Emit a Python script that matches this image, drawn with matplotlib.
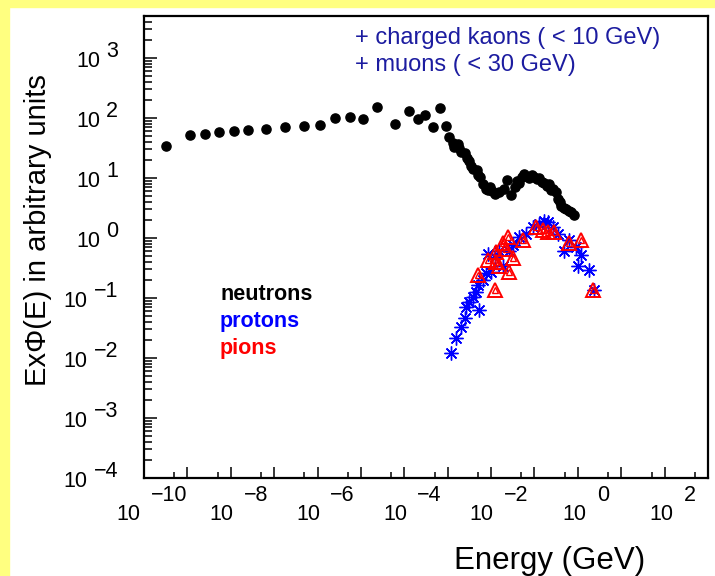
import matplotlib
matplotlib.use("Agg")
import numpy as np
import matplotlib.pyplot as plt
from matplotlib.ticker import LogLocator, NullFormatter
from matplotlib.transforms import blended_transform_factory, ScaledTranslation
from matplotlib.patches import Rectangle

plt.rcParams['font.family'] = ['Liberation Sans', 'DejaVu Sans']

# ---------------- data (log10 values) ----------------
neutron_logE = [-9.49, -8.94, -8.60, -8.27, -7.93, -7.61, -7.19, -6.74, -6.32, -5.94,
                -5.59, -5.26, -4.95, -4.62, -4.22, -3.89, -3.69, -3.52, -3.34, -3.17,
                -3.03, -2.96, -2.88, -2.77, -2.69, -2.61, -2.51, -2.42, -2.33, -2.25,
                -2.19, -2.11, -2.02, -1.92, -1.81, -1.64, -1.54, -1.46, -1.35, -1.23,
                -1.12, -1.00, -0.89, -0.77, -0.66, -0.58, -0.50, -0.46, -0.39, -0.27,
                -0.16, -0.08, -2.85, -2.73, -2.56, -2.46, -2.29, -2.06, -1.97, -1.70,
                -1.40, -1.28, -1.05, -0.94, -0.82, -0.71, -0.62, -0.42, -0.33, -0.21]
neutron_logF = [1.54, 1.72, 1.73, 1.76, 1.79, 1.80, 1.81, 1.85, 1.86, 1.88,
                2.00, 2.01, 1.98, 2.18, 1.90, 2.12, 1.98, 2.05, 1.85, 2.16,
                1.87, 1.68, 1.58, 1.57, 1.44, 1.41, 1.28, 1.15, 1.13, 1.02,
                0.90, 0.82, 0.85, 0.74, 0.76, 0.96, 0.71, 0.85, 0.91, 1.06,
                1.00, 1.02, 1.00, 0.91, 0.90, 0.82, 0.76, 0.65, 0.54, 0.49,
                0.43, 0.38, 1.52, 1.50, 1.33, 1.20, 1.05, 0.80, 0.78, 0.82,
                0.95, 1.02, 1.05, 0.98, 0.94, 0.86, 0.80, 0.60, 0.50, 0.45]

proton_logE = [-2.92, -2.80, -2.69, -2.61, -2.57, -2.50, -2.42, -2.34, -2.27, -2.31,
               -2.19, -2.11, -2.00, -2.08, -1.92, -1.81, -1.73, -1.58, -1.50, -1.35,
               -1.19, -1.04, -0.89, -0.77, -0.69, -0.58, -0.46, -0.31, -0.20, -0.04,
               0.07, 0.00, 0.26, 0.38]
proton_logF = [-1.92, -1.67, -1.48, -1.34, -1.15, -1.06, -0.98, -0.90, -1.20, -0.79,
               -0.70, -0.59, -0.57, -0.26, -0.32, -0.21, -0.46, -0.21, -0.12, 0.01,
               0.07, 0.18, 0.24, 0.29, 0.26, 0.18, 0.07, -0.21, -0.04, -0.15,
               -0.29, -0.46, -0.54, -0.87]

pion_logE = [-1.62, -1.73, -1.88, -2.08, -2.31, -1.92, -1.58, -1.50, -1.81, -1.27,
             -0.96, -0.81, -0.69, -0.54, -0.20, 0.07, 0.34, -1.66, -1.88]
pion_logF = [0.01, -0.09, -0.23, -0.37, -0.62, -0.87, -0.57, -0.34, -0.46, -0.04,
             0.18, 0.13, 0.10, 0.10, -0.09, -0.04, -0.87, -0.18, -0.40]

x_label_exponents = [-10, -8, -6, -4, -2, 0, 2]
y_label_exponents = [-4, -3, -2, -1, 0, 1, 2, 3]
legend_labels = ['neutrons', 'protons', 'pions']
legend_colors = ['black', '#0000ff', '#ff0000']
note_lines = ['+ charged kaons ( < 10 GeV)', '+ muons ( < 30 GeV)']
x_title = 'Energy (GeV)'
y_title = 'ExΦ(E) in arbitrary units'

# ---------------- figure ----------------
W, H, DPI = 715, 576, 100
fig = plt.figure(figsize=(W / DPI, H / DPI), dpi=DPI, facecolor='white')
yellow = '#ffff80'
fig.patches.append(Rectangle((0, 0), 9 / W, 1, transform=fig.transFigure,
                             color=yellow, zorder=-10))
fig.patches.append(Rectangle((0, 1 - 7 / H), 1, 7 / H, transform=fig.transFigure,
                             color=yellow, zorder=-10))

L, R, T, B = 144, 708, 16, 478
ax = fig.add_axes([L / W, 1 - B / H, (R - L) / W, (B - T) / H])
ax.set_xscale('log')
ax.set_yscale('log')
ax.set_xlim(1e-10, 1e3)
ax.set_ylim(1e-4, 5e3)

for s in ax.spines.values():
    s.set_linewidth(1.6)

ax.xaxis.set_major_locator(LogLocator(base=10, numticks=40))
ax.xaxis.set_minor_locator(LogLocator(base=10, subs=[5.0], numticks=40))
ax.yaxis.set_major_locator(LogLocator(base=10, numticks=40))
ax.yaxis.set_minor_locator(LogLocator(base=10, subs=np.arange(2, 10), numticks=40))
ax.xaxis.set_minor_formatter(NullFormatter())
ax.yaxis.set_minor_formatter(NullFormatter())
ax.tick_params(which='both', direction='in', top=False, right=False,
               labelbottom=False, labelleft=False, width=1.1, color='black')
ax.tick_params(axis='x', which='major', length=8)
ax.tick_params(axis='x', which='minor', length=4)
ax.tick_params(axis='y', which='major', length=9.5)
ax.tick_params(axis='y', which='minor', length=5.5)

# ---------------- data marks ----------------
def p(v):
    return np.power(10.0, np.asarray(v, dtype=float))

ax.plot(p(proton_logE), p(proton_logF), linestyle='none', marker=(8, 2, 0),
        markersize=10, markeredgewidth=1.0, color=legend_colors[1], zorder=3)
ax.plot(p(pion_logE), p(pion_logF), linestyle='none', marker='^', markersize=10,
        markerfacecolor='none', markeredgewidth=1.4, markeredgecolor=legend_colors[2], zorder=4)
ax.plot(p(pion_logE), p(pion_logF), linestyle='none', marker='^', markersize=5,
        markerfacecolor='none', markeredgewidth=1.0, markeredgecolor=legend_colors[2], zorder=4)
ax.plot(p(neutron_logE), p(neutron_logF), linestyle='none', marker='o', markersize=6.6,
        color=legend_colors[0], zorder=5)

# ---------------- tick labels (ROOT style "10" + raised exponent) ----------------
px = 1.0 / DPI
tick_fs = 15.5

def fmt_exp(e):
    return str(e).replace('-', '\u2212')

bx = blended_transform_factory(ax.transData, ax.transAxes)
renderer = fig.canvas.get_renderer()
gap_x = 10
for e in x_label_exponents:
    t10 = ax.text(10.0 ** e, 0, '10', fontsize=tick_fs, ha='left', va='baseline',
                  transform=bx)
    te = ax.text(10.0 ** e, 0, fmt_exp(e), fontsize=tick_fs, ha='left', va='baseline',
                 transform=bx)
    w10 = t10.get_window_extent(renderer).width
    we = te.get_window_extent(renderer).width
    total = w10 + gap_x + we
    left = 8 - total / 2.0
    t10.set_transform(bx + ScaledTranslation(left * px, -42 * px, fig.dpi_scale_trans))
    te.set_transform(bx + ScaledTranslation((left + w10 + gap_x) * px, -23 * px,
                                            fig.dpi_scale_trans))

by = blended_transform_factory(ax.transAxes, ax.transData)
gap_y = 6
for e in y_label_exponents:
    te = ax.text(0, 10.0 ** e, fmt_exp(e), fontsize=tick_fs, ha='right', va='baseline',
                 transform=by + ScaledTranslation(-26 * px, 1 * px, fig.dpi_scale_trans))
    we = te.get_window_extent(renderer).width
    ax.text(0, 10.0 ** e, '10', fontsize=tick_fs, ha='right', va='baseline',
            transform=by + ScaledTranslation((-26 - we - gap_y) * px, -9 * px,
                                             fig.dpi_scale_trans))

# ---------------- titles and annotations ----------------
fig.text(645 / W, 1 - 569 / H, x_title, fontsize=22.5, ha='right', va='baseline')
fig.text(38 / W, 1 - 230 / H, y_title, fontsize=21, rotation=90, ha='center', va='center')

note_color = '#1c1ca0'
fig.text(355 / W, 1 - 44 / H, note_lines[0], fontsize=17, color=note_color,
         ha='left', va='baseline')
fig.text(355 / W, 1 - 71 / H, note_lines[1], fontsize=17, color=note_color,
         ha='left', va='baseline')

legend_baselines = [300, 327, 354]
for lab, col, yb in zip(legend_labels, legend_colors, legend_baselines):
    fig.text(220 / W, 1 - yb / H, lab, fontsize=15.5, fontweight='bold', color=col,
             ha='left', va='baseline')

fig.savefig('out.png', dpi=DPI, facecolor=fig.get_facecolor())
